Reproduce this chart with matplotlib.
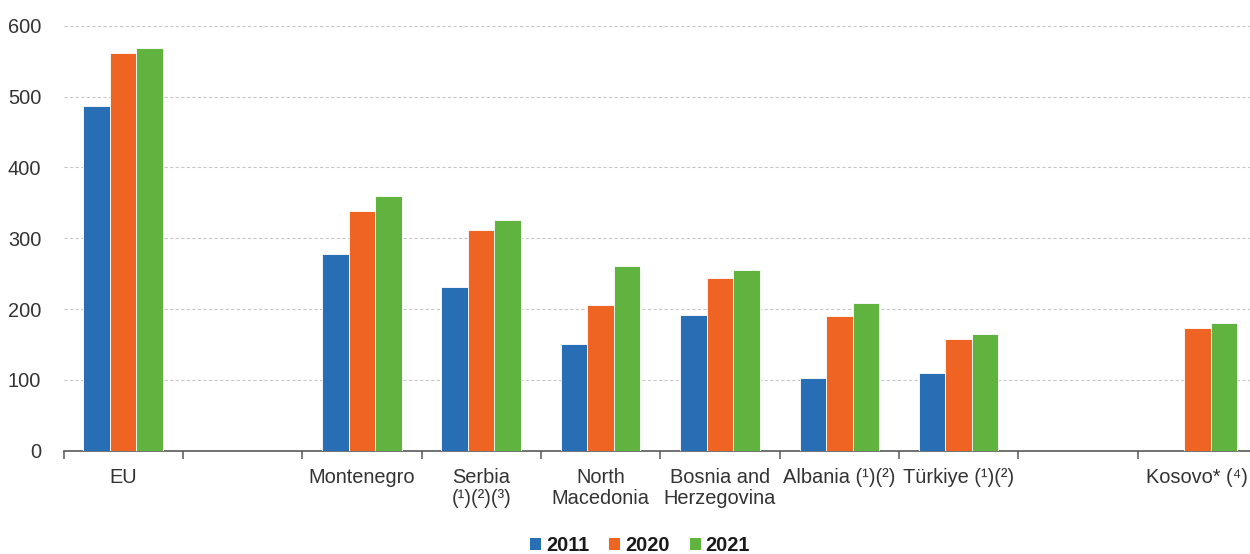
import numpy as np
import matplotlib
matplotlib.use("Agg")
import matplotlib.pyplot as plt
from matplotlib.patches import Patch

plt.rcParams['font.family'] = ['Liberation Sans', 'DejaVu Sans']

categories = ['EU', '', 'Montenegro', 'Serbia\n(¹)(²)(³)', 'North\nMacedonia',
              'Bosnia and\nHerzegovina', 'Albania (¹)(²)', 'Türkiye (¹)(²)', '',
              'Kosovo* (⁴)']
years = ['2011', '2020', '2021']
values_2011 = [486, np.nan, 277, 231, 151, 191, 102, 110, np.nan, np.nan]
values_2020 = [561, np.nan, 339, 311, 206, 244, 190, 157, np.nan, 173]
values_2021 = [568, np.nan, 359, 326, 261, 255, 209, 165, np.nan, 180]
colors = ['#286EB4', '#F06423', '#61B33F']

fig = plt.figure(figsize=(12.5, 5.54), dpi=100)
ax = fig.add_axes([0.0508, 0.1865, 0.9548, 0.7671])

x = np.arange(len(categories))
w = 0.222
for i, (vals, c) in enumerate(zip([values_2011, values_2020, values_2021], colors)):
    ax.bar(x + (i - 1) * w, vals, width=w, color=c, edgecolor='white',
           linewidth=0.6, zorder=3)

ax.set_xlim(-0.5, len(categories) - 0.5)
ax.set_ylim(0, 600)
ax.set_yticks(range(0, 601, 100))
ax.yaxis.grid(True, linestyle=(0, (3, 2)), color='#C8C8C8', linewidth=0.8, zorder=0)
ax.set_axisbelow(True)

for s in ['top', 'right', 'left']:
    ax.spines[s].set_visible(False)
ax.spines['bottom'].set_color('#595959')
ax.spines['bottom'].set_linewidth(1.2)

ax.set_xticks(x)
ax.set_xticklabels(categories, fontsize=14.4, color='#333333', linespacing=1.15)
ax.set_xticks(np.arange(-0.5, len(categories) - 0.5, 1.0), minor=True)
ax.tick_params(axis='x', which='major', length=0, pad=12.5)
ax.tick_params(axis='x', which='minor', length=6, width=1.1, color='#595959')
ax.tick_params(axis='y', length=0, pad=16, labelsize=14.4, labelcolor='#333333')

handles = [Patch(facecolor=c, edgecolor='none') for c in colors]
leg = fig.legend(handles, years, loc='center', bbox_to_anchor=(0.512, 0.016),
                 ncol=3, frameon=False, handlelength=0.55, handleheight=0.55,
                 handletextpad=0.25, columnspacing=1.0, borderpad=0.1,
                 prop={'weight': 'bold', 'size': 14.4})
for t in leg.get_texts():
    t.set_color('#1a1a1a')

fig.savefig('out.png', dpi=100)
